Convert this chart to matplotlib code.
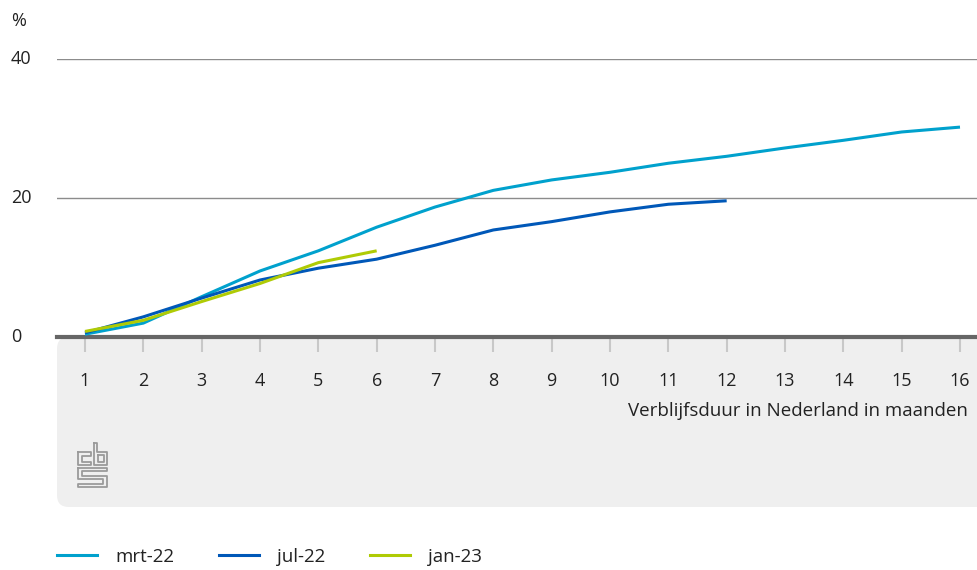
import matplotlib
matplotlib.use("Agg")
import matplotlib.pyplot as plt
from matplotlib.patches import FancyBboxPatch
from matplotlib.lines import Line2D

plt.rcParams['font.family'] = ['Open Sans', 'DejaVu Sans']

# Data (percentages)
maanden = list(range(1, 17))
mrt22 = [0.4, 2.0, 5.8, 9.5, 12.4, 15.8, 18.7, 21.1, 22.6, 23.7, 25.0, 26.0, 27.2, 28.3, 29.5, 30.2]
jul22 = [0.6, 2.9, 5.6, 8.2, 9.9, 11.2, 13.2, 15.4, 16.6, 18.0, 19.1, 19.6]
jan23 = [0.8, 2.4, 5.1, 7.7, 10.7, 12.4]
series = [("mrt-22", mrt22, "#00a1cd"), ("jul-22", jul22, "#0058b8"), ("jan-23", jan23, "#afcb05")]
yticks = [0, 20, 40]
xlabel = "Verblijfsduur in Nederland in maanden"

W, H = 977, 570
fig = plt.figure(figsize=(W / 100, H / 100), dpi=100)

def fx(px):
    return px / W

def fy(py):
    return 1 - py / H

tc = "#222222"
fs = 13.5

# grey area under the axis
bg = FancyBboxPatch((fx(57), fy(507)), fx(960), fy(337) - fy(507),
                    boxstyle="round,pad=0,rounding_size=0.012", transform=fig.transFigure,
                    facecolor="#efefef", edgecolor="none", zorder=-5, mutation_aspect=W / H)
fig.patches.append(bg)

ax = fig.add_axes([fx(57), fy(337), fx(920), fy(59) - fy(337)])
ax.set_facecolor("white")
ax.set_xlim(1 - 28 / 58.33, 16 + 17 / 58.33)
ax.set_ylim(0, 40)

for naam, vals, kleur in series:
    ax.plot(maanden[:len(vals)], vals, color=kleur, lw=2.2, label=naam, clip_on=False,
            solid_capstyle="butt", zorder=3)

for y in yticks[1:]:
    ax.axhline(y, color="#8c8c8c", lw=1, zorder=1)
ax.axhline(0, color="#666666", lw=3, zorder=2, clip_on=False)

for s in ax.spines.values():
    s.set_visible(False)
ax.set_yticks([])
ax.set_xticks(maanden)
ax.set_xticklabels([])
ax.tick_params(axis="x", direction="out", length=11, width=1.5, color="#c8c8c8")

for m in maanden:
    ax.text(m, -6.3, str(m), ha="center", va="center", fontsize=fs - 0.5, color=tc)
ax.text(16 + 8 / 58.33, -10.6, xlabel, ha="right", va="center", fontsize=fs, color=tc)

for y in yticks:
    ypx = 337 - y * 6.95
    fig.text(fx(11), fy(ypx), str(y), ha="left", va="center", fontsize=fs - 0.5, color=tc)
fig.text(fx(11), fy(21), "%", ha="left", va="center", fontsize=fs - 0.5, color=tc)

# cbs logo (simplified)
lc = "#9a9a9a"
logo = [
    [(78, 452), (91, 452), (91, 456), (82, 456), (82, 462), (91, 462), (91, 465), (78, 465), (78, 452)],
    [(94, 443), (97, 443), (97, 452), (107, 452), (107, 465), (94, 465), (94, 443)],
    [(98, 455), (104, 455), (104, 462), (98, 462), (98, 455)],
    [(78, 468), (107, 468), (107, 471), (82, 471), (82, 476), (107, 476), (107, 487), (78, 487),
     (78, 484), (103, 484), (103, 479), (78, 479), (78, 468)],
]
for pts in logo:
    fig.add_artist(Line2D([fx(p[0]) for p in pts], [fy(p[1]) for p in pts],
                          transform=fig.transFigure, color=lc, lw=1.3))

handles = [Line2D([], [], color=k, lw=2.2) for _, _, k in series]
fig.legend(handles, [s[0] for s in series], loc="center left", bbox_to_anchor=(fx(57), fy(557)),
           ncol=3, frameon=False, fontsize=fs, handlelength=2.13, handletextpad=0.96,
           columnspacing=2.4, borderpad=0, borderaxespad=0, labelcolor=tc)

fig.savefig("out.png", dpi=100)
